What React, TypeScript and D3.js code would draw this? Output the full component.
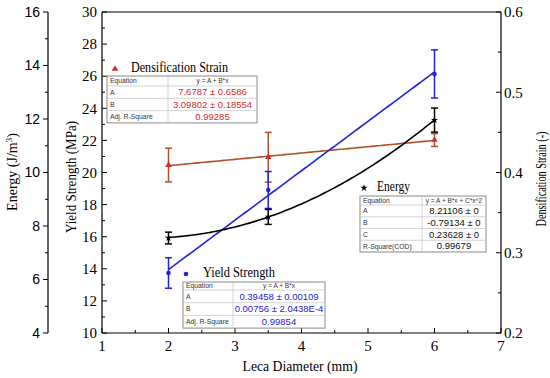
import React from "react";
import * as d3 from "d3";

// ---------- data ----------
const diameters = [2, 3.5, 6];
const yieldValues = [13.74, 18.91, 26.14];
const yieldErrors = [0.95, 1.15, 1.5];
const energyValues = [7.55, 8.34, 11.96];
const energyErrors = [0.22, 0.28, 0.45];
const densValues = [0.4093, 0.419, 0.4405];
const densErrors = [0.021, 0.031, 0.008];
const energyFit = [8.21106, -0.79134, 0.23628];

const xTicks = [1, 2, 3, 4, 5, 6, 7];
const yieldTicks = [10, 12, 14, 16, 18, 20, 22, 24, 26, 28, 30];
const energyTicks = [4, 6, 8, 10, 12, 14, 16];
const densTicks = [0.2, 0.3, 0.4, 0.5, 0.6];

const densTable = [
  ["Equation", "y = A + B*x"],
  ["A", "7.6787 ± 0.6586"],
  ["B", "3.09802 ± 0.18554"],
  ["Adj. R-Square", "0.99285"],
];
const energyTable = [
  ["Equation", "y = A + B*x + C*x^2"],
  ["A", "8.21106 ± 0"],
  ["B", "-0.79134 ± 0"],
  ["C", "0.23628 ± 0"],
  ["R-Square(COD)", "0.99679"],
];
const yieldTable = [
  ["Equation", "y = A + B*x"],
  ["A", "0.39458 ± 0.00109"],
  ["B", "0.00756 ± 2.0438E-4"],
  ["Adj. R-Square", "0.99854"],
];

// ---------- layout ----------
const W = 550, H = 378;
const L = 102, R = 501, T = 12, B = 333;
const serif = "'Liberation Serif', 'Times New Roman', serif";
const sans = "'Liberation Sans', Arial, sans-serif";
const RED = "#d42a2a";
const BROWN = "#b0502a";
const BLUE = "#2222dd";

const x = d3.scaleLinear().domain([1, 7]).range([L, R]);
const yY = d3.scaleLinear().domain([10, 30]).range([B, T]);
const yE = d3.scaleLinear().domain([4, 16]).range([B, T]);
const yD = d3.scaleLinear().domain([0.2, 0.6]).range([B, T]);

function linFit(xs: number[], ys: number[]) {
  const mx = d3.mean(xs)!, my = d3.mean(ys)!;
  let sxy = 0, sxx = 0;
  xs.forEach((v, i) => { sxy += (v - mx) * (ys[i] - my); sxx += (v - mx) ** 2; });
  const b = sxy / sxx;
  return (v: number) => my + b * (v - mx);
}

function Table({ rows, x0, y0, w, col, head, rowH, color }: any) {
  const ys: number[] = [y0];
  rows.forEach((_: any, i: number) => ys.push(ys[i] + (i === 0 ? head : rowH)));
  return (
    <g>
      <rect x={x0} y={y0} width={w} height={ys[ys.length - 1] - y0} fill="#fff" stroke="#8a8a8a" strokeWidth={1} />
      {ys.slice(1, -1).map((yy, i) => (
        <line key={i} x1={x0} x2={x0 + w} y1={yy} y2={yy} stroke="#c8c8c8" strokeWidth={0.8} />
      ))}
      <line x1={x0 + col} x2={x0 + col} y1={y0} y2={ys[ys.length - 1]} stroke="#c8c8c8" strokeWidth={0.8} />
      {rows.map((r: string[], i: number) => {
        const cy = (ys[i] + ys[i + 1]) / 2;
        return (
          <g key={i}>
            <text x={x0 + 3} y={cy} dy="0.35em" fontFamily={sans} fontSize={6.8} fill="#333">{r[0]}</text>
            <text x={x0 + col + (w - col) / 2} y={cy} dy="0.35em" textAnchor="middle" fontFamily={sans}
              fontSize={i === 0 ? 6.5 : 9.5} fill={i === 0 ? "#333" : color}>{r[1]}</text>
          </g>
        );
      })}
    </g>
  );
}

function ErrorBars({ vals, errs, scale, color }: any) {
  return (
    <g stroke={color} strokeWidth={1.5}>
      {diameters.map((d, i) => {
        const cx = x(d), y1 = scale(vals[i] + errs[i]), y2 = scale(vals[i] - errs[i]);
        return (
          <g key={i}>
            <line x1={cx} x2={cx} y1={y1} y2={y2} />
            <line x1={cx - 3.5} x2={cx + 3.5} y1={y1} y2={y1} />
            <line x1={cx - 3.5} x2={cx + 3.5} y1={y2} y2={y2} />
          </g>
        );
      })}
    </g>
  );
}

export default function App() {
  const densFit = linFit(diameters, densValues);
  const yieldFit = linFit(diameters, yieldValues);
  const xs = d3.range(2, 6.001, 0.05);
  const lineD = d3.line<number>().x((v) => x(v)).y((v) => yD(densFit(v)));
  const lineY = d3.line<number>().x((v) => x(v)).y((v) => yY(yieldFit(v)));
  const lineE = d3.line<number>().x((v) => x(v))
    .y((v) => yE(energyFit[0] + energyFit[1] * v + energyFit[2] * v * v)).curve(d3.curveMonotoneX);
  const tri = d3.symbol().type(d3.symbolTriangle).size(18)()!;
  const star = d3.symbol().type(d3.symbolStar).size(16)()!;

  const xMinor = d3.range(1.5, 7, 1);
  const yMinor = d3.range(11, 30, 2);
  const eMinor = d3.range(5, 16, 2);
  const dMinor = d3.range(0.25, 0.6, 0.1);

  return (
    <svg width={W} height={H} style={{ position: "absolute", left: 0, top: 0, background: "#fff" }}>
      <rect width={W} height={H} fill="#fff" />
      {/* frame */}
      <g stroke="#000" strokeWidth={1.2} fill="none">
        <line x1={L} x2={R} y1={B} y2={B} />
        <line x1={L} x2={R} y1={T} y2={T} />
        <line x1={L} x2={L} y1={T} y2={B} />
        <line x1={R} x2={R} y1={T} y2={B} />
        <line x1={48} x2={48} y1={T} y2={B} />
      </g>
      {/* x axis */}
      <g stroke="#000" strokeWidth={1}>
        {xTicks.map((t) => <line key={t} x1={x(t)} x2={x(t)} y1={B} y2={B - 5} />)}
        {xMinor.map((t) => <line key={t} x1={x(t)} x2={x(t)} y1={B} y2={B - 3} />)}
      </g>
      {xTicks.map((t) => (
        <text key={t} x={x(t)} y={351} textAnchor="middle" fontFamily={serif} fontSize={15}>{t}</text>
      ))}
      <text x={300} y={371} textAnchor="middle" fontFamily={serif} fontSize={14} textLength={115} lengthAdjust="spacingAndGlyphs">Leca Diameter (mm)</text>
      {/* yield axis */}
      <g stroke="#000" strokeWidth={1}>
        {yieldTicks.map((t) => <line key={t} x1={L} x2={L + 5} y1={yY(t)} y2={yY(t)} />)}
        {yMinor.map((t) => <line key={t} x1={L} x2={L + 3} y1={yY(t)} y2={yY(t)} />)}
      </g>
      {yieldTicks.map((t) => (
        <text key={t} x={97} y={yY(t)} dy="0.35em" textAnchor="end" fontFamily={serif} fontSize={15}>{t}</text>
      ))}
      <text transform="translate(76,177) rotate(-90)" textAnchor="middle" fontFamily={serif} fontSize={14} textLength={112} lengthAdjust="spacingAndGlyphs">Yield Strength (MPa)</text>
      {/* energy axis */}
      <g stroke="#000" strokeWidth={1}>
        {energyTicks.map((t) => <line key={t} x1={48} x2={43} y1={yE(t)} y2={yE(t)} />)}
        {eMinor.map((t) => <line key={t} x1={48} x2={45} y1={yE(t)} y2={yE(t)} />)}
      </g>
      {energyTicks.map((t) => (
        <text key={t} x={40} y={yE(t)} dy="0.35em" textAnchor="end" fontFamily={sans} fontSize={14}>{t}</text>
      ))}
      <text transform="translate(17,172) rotate(-90)" textAnchor="middle" fontFamily={serif} fontSize={14}>
        Energy (J/m<tspan dy={-5} fontSize={9}>3</tspan><tspan dy={5}>)</tspan>
      </text>
      {/* densification axis */}
      <g stroke="#000" strokeWidth={1}>
        {densTicks.map((t) => <line key={t} x1={R} x2={R - 5} y1={yD(t)} y2={yD(t)} />)}
        {dMinor.map((t) => <line key={t} x1={R} x2={R - 3} y1={yD(t)} y2={yD(t)} />)}
      </g>
      {densTicks.map((t) => (
        <text key={t} x={504} y={yD(t)} dy="0.35em" fontFamily={serif} fontSize={15}>{t.toFixed(1)}</text>
      ))}
      <text transform="translate(546,179) rotate(-90)" textAnchor="middle" fontFamily={serif} fontSize={14} textLength={95} lengthAdjust="spacingAndGlyphs">Densification Strain (-)</text>

      {/* densification series */}
      <path d={lineD(xs)!} fill="none" stroke={BROWN} strokeWidth={1.6} />
      <ErrorBars vals={densValues} errs={densErrors} scale={yD} color={BROWN} />
      {diameters.map((d, i) => (
        <path key={i} d={tri} transform={`translate(${x(d)},${yD(densValues[i])})`} fill={RED} />
      ))}
      {/* yield series */}
      <path d={lineY(xs)!} fill="none" stroke={BLUE} strokeWidth={1.6} />
      <ErrorBars vals={yieldValues} errs={yieldErrors} scale={yY} color={BLUE} />
      {diameters.map((d, i) => (
        <circle key={i} cx={x(d)} cy={yY(yieldValues[i])} r={2.3} fill={BLUE} />
      ))}
      {/* energy series */}
      <path d={lineE(xs)!} fill="none" stroke="#000" strokeWidth={1.6} />
      <ErrorBars vals={energyValues} errs={energyErrors} scale={yE} color="#000" />
      {diameters.map((d, i) => (
        <path key={i} d={star} transform={`translate(${x(d)},${yE(energyValues[i])})`} fill="#000" />
      ))}

      {/* legends */}
      <path d={tri} transform="translate(115,69)" fill={RED} />
      <text x={131} y={72} fontFamily={serif} fontSize={15} textLength={97} lengthAdjust="spacingAndGlyphs">Densification Strain</text>
      <Table rows={densTable} x0={107} y0={76} w={150} col={61} head={10} rowH={12.3} color={RED} />

      <path d={star} transform="translate(364,188)" fill="#000" />
      <text x={377} y={191} fontFamily={serif} fontSize={15} textLength={33} lengthAdjust="spacingAndGlyphs">Energy</text>
      <Table rows={energyTable} x0={360} y0={196} w={126} col={62} head={9} rowH={11.75} color="#111" />

      <circle cx={186} cy={274} r={2.3} fill={BLUE} />
      <text x={203} y={277} fontFamily={serif} fontSize={15} textLength={72} lengthAdjust="spacingAndGlyphs">Yield Strength</text>
      <Table rows={yieldTable} x0={183} y0={282} w={142} col={50} head={8} rowH={12.7} color={BLUE} />
    </svg>
  );
}
